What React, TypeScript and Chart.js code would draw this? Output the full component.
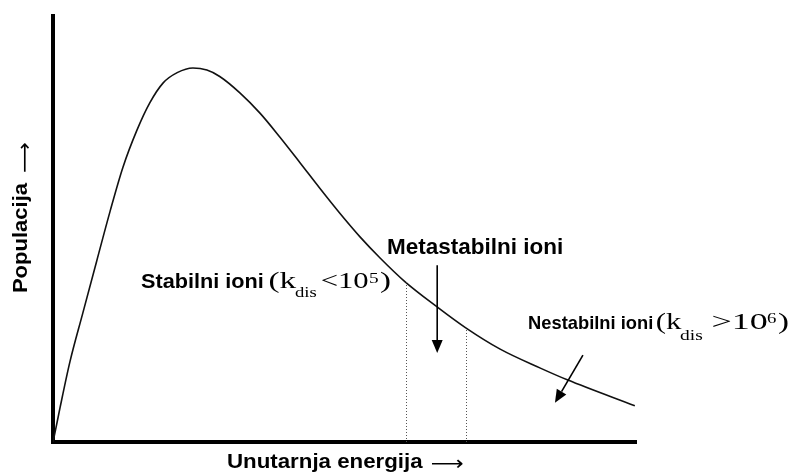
import React, { useEffect, useRef } from "react";
import { Chart, registerables } from "chart.js";

Chart.register(...registerables);

// Internal energy (relative units) and population (relative units)
const energy = [0, 0.34, 1.2, 2.9, 5.1, 7.5, 9.8, 12.0, 14.4, 16.6, 18.9, 21.3, 24.0, 26.4, 28.6, 32.1, 35.5, 38.9, 42.4, 45.8, 49.2, 52.7, 56.1, 60.4, 65.9, 70.8, 76.7, 83.5, 88.2, 99.8];
const population = [0, 2.2, 8.0, 18.8, 30.2, 42.5, 54.2, 64.5, 73.2, 79.6, 84.3, 86.7, 87.8, 87.3, 85.8, 81.9, 77.2, 71.6, 65.5, 59.5, 53.7, 48.1, 43.2, 37.6, 31.7, 26.8, 21.8, 17.4, 14.6, 8.5];

// Boundaries between stable / metastable / unstable ions (energy units)
const regionBounds = [60.5, 70.8];

// Annotation arrows [x0, y0, x1, y1] in data units (tail -> tip)
const metastableArrow = [65.9, 41.5, 65.9, 20.9];
const unstableArrow = [90.9, 20.4, 86.1, 9.2];

const xTitle = "Unutarnja energija";
const yTitle = "Populacija";
const arrowGlyph = "⟶";
const stableLabel = "Stabilni ioni";
const metastableLabel = "Metastabilni ioni";
const unstableLabel = "Nestabilni ioni";

const SANS = "'Liberation Sans', Arial, sans-serif";
const SERIF = "'Liberation Serif', 'Times New Roman', serif";

function interp(x: number): number {
  for (let i = 1; i < energy.length; i++) {
    if (x <= energy[i]) {
      const t = (x - energy[i - 1]) / (energy[i] - energy[i - 1]);
      return population[i - 1] + t * (population[i] - population[i - 1]);
    }
  }
  return population[population.length - 1];
}

// Draw text so that its ink spans exactly [x, x + w]
function run(ctx: CanvasRenderingContext2D, text: string, font: string, x: number, y: number, w: number, centerY?: boolean) {
  ctx.font = font;
  const m = ctx.measureText(text);
  const ink = m.actualBoundingBoxLeft + m.actualBoundingBoxRight;
  const s = ink > 0 ? w / ink : 1;
  let by = y;
  if (centerY) by = y + (m.actualBoundingBoxAscent - m.actualBoundingBoxDescent) / 2;
  ctx.save();
  ctx.translate(x, by);
  ctx.scale(s, 1);
  ctx.fillText(text, m.actualBoundingBoxLeft, 0);
  ctx.restore();
}

function arrow(ctx: CanvasRenderingContext2D, x0: number, y0: number, x1: number, y1: number) {
  const ang = Math.atan2(y1 - y0, x1 - x0);
  const len = 13;
  const hw = 5.5;
  const bx = x1 - len * Math.cos(ang);
  const by = y1 - len * Math.sin(ang);
  ctx.beginPath();
  ctx.moveTo(x0, y0);
  ctx.lineTo(bx, by);
  ctx.lineWidth = 1.6;
  ctx.strokeStyle = "#000";
  ctx.stroke();
  ctx.beginPath();
  ctx.moveTo(x1, y1);
  ctx.lineTo(bx + hw * Math.sin(ang), by - hw * Math.cos(ang));
  ctx.lineTo(bx - hw * Math.sin(ang), by + hw * Math.cos(ang));
  ctx.closePath();
  ctx.fillStyle = "#000";
  ctx.fill();
}

const annotationPlugin = {
  id: "annotations",
  afterDatasetsDraw(chart: any) {
    const { ctx, chartArea } = chart;
    const xs = chart.scales.x;
    const ys = chart.scales.y;
    ctx.save();
    // dotted boundaries
    ctx.setLineDash([1, 2]);
    ctx.lineWidth = 1;
    ctx.strokeStyle = "#555";
    regionBounds.forEach((b) => {
      const px = Math.round(xs.getPixelForValue(b)) + 0.5;
      ctx.beginPath();
      ctx.moveTo(px, ys.getPixelForValue(0));
      ctx.lineTo(px, ys.getPixelForValue(interp(b)));
      ctx.stroke();
    });
    ctx.setLineDash([]);

    // arrows
    [metastableArrow, unstableArrow].forEach((a) => {
      arrow(ctx, xs.getPixelForValue(a[0]), ys.getPixelForValue(a[1]), xs.getPixelForValue(a[2]), ys.getPixelForValue(a[3]));
    });

    ctx.fillStyle = "#000";
    ctx.textAlign = "left";
    ctx.textBaseline = "alphabetic";
    const bold = `bold 21px ${SANS}`;
    const big = `23px ${SERIF}`;
    const small = `15px ${SERIF}`;

    // Stable ions label
    {
      const x = xs.getPixelForValue(15.09);
      const y = ys.getPixelForValue(36.15);
      run(ctx, stableLabel, bold, x, y, 122);
      run(ctx, "(k", big, x + 129, y, 27);
      run(ctx, "dis", small, x + 154, y + 9, 22);
      run(ctx, "<10", big, x + 181, y, 46);
      run(ctx, "5", small, x + 228, y - 5, 9);
      run(ctx, ")", big, x + 239, y, 10);
    }
    // Metastable ions label
    {
      const x = xs.getPixelForValue(57.46);
      const y = ys.getPixelForValue(44.13);
      run(ctx, metastableLabel, `bold 22px ${SANS}`, x, y, 174);
    }
    // Unstable ions label
    {
      const x = xs.getPixelForValue(81.65);
      const y = ys.getPixelForValue(26.53);
      run(ctx, unstableLabel, `bold 19px ${SANS}`, x, y, 123);
      run(ctx, "(k", big, x + 128, y, 25);
      run(ctx, "dis", small, x + 151, y + 11, 23);
      run(ctx, ">10", big, x + 184, y, 54);
      run(ctx, "6", small, x + 238, y - 6, 10);
      run(ctx, ")", big, x + 249, y, 10);
    }

    // X axis title
    {
      const x0 = chartArea.left + 175;
      const yb = chartArea.bottom + 26;
      run(ctx, xTitle, bold, x0, yb, 195);
      run(ctx, arrowGlyph, `20px 'DejaVu Sans', sans-serif`, x0 + 204, yb - 4, 31, true);
    }
    // Y axis title (rotated)
    {
      ctx.save();
      ctx.translate(27, chartArea.top + 276);
      ctx.rotate(-Math.PI / 2);
      run(ctx, yTitle, `bold 20px ${SANS}`, 0, 0, 110);
      run(ctx, arrowGlyph, `20px 'DejaVu Sans', sans-serif`, 120, -2, 29, true);
      ctx.restore();
    }
    ctx.restore();
  },
};

export default function App() {
  const ref = useRef<HTMLCanvasElement | null>(null);
  useEffect(() => {
    if (!ref.current) return;
    const chart = new Chart(ref.current, {
      type: "line",
      data: {
        datasets: [
          {
            data: energy.map((x, i) => ({ x, y: population[i] })),
            borderColor: "#111",
            borderWidth: 1.6,
            pointRadius: 0,
            cubicInterpolationMode: "monotone",
            fill: false,
          },
        ],
      },
      options: {
        animation: false,
        responsive: true,
        maintainAspectRatio: false,
        layout: { padding: { left: 0, right: 154, top: 16, bottom: 0 } },
        plugins: { legend: { display: false }, tooltip: { enabled: false } },
        scales: {
          x: {
            type: "linear",
            min: 0,
            max: 100,
            grid: { display: false },
            ticks: { display: false },
            border: { display: true, color: "#000", width: 4 },
            afterFit: (s: any) => {
              s.height = 33;
            },
          },
          y: {
            type: "linear",
            min: 0,
            max: 100,
            grid: { display: false },
            ticks: { display: false },
            border: { display: true, color: "#000", width: 4 },
            afterFit: (s: any) => {
              s.width = 53;
            },
          },
        },
      },
      plugins: [annotationPlugin],
    });
    return () => chart.destroy();
  }, []);
  return (
    <div style={{ position: "fixed", left: 0, top: 0, width: 790, height: 475, background: "#fff" }}>
      <canvas ref={ref} />
    </div>
  );
}
